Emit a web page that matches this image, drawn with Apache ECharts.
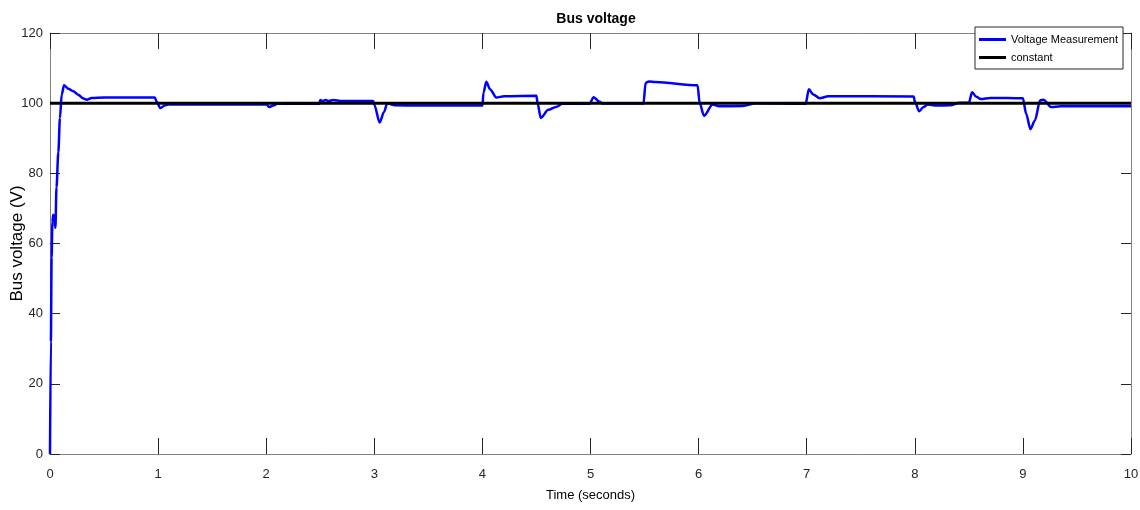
<!DOCTYPE html>
<html>
<head>
<meta charset="utf-8">
<script src="https://cdn.jsdelivr.net/npm/echarts@6/dist/echarts.min.js"></script>
<style>html,body{margin:0;padding:0;background:#fff;}#c{width:1140px;height:510px;}</style>
</head>
<body>
<div id="c"></div>
<script>
// Data
const timeValues = [0, 0.008, 0.015, 0.022, 0.03, 0.04, 0.05, 0.06, 0.077, 0.092, 0.108, 0.13, 0.17, 0.215, 0.26, 0.31, 0.34, 0.385, 0.5, 0.97,
  0.985, 1.02, 1.06, 1.1, 1.5, 2.0, 2.03, 2.07, 2.1, 2.49, 2.5, 2.52, 2.55, 2.58, 2.62, 2.7, 2.99,
  3.0, 3.05, 3.09, 3.12, 3.19, 3.4, 4.0, 4.01, 4.036, 4.07, 4.13, 4.2, 4.5,
  4.51, 4.54, 4.61, 4.68, 4.74, 4.99, 5.03, 5.08, 5.11, 5.49, 5.51, 5.54, 5.6, 5.99,
  6.01, 6.05, 6.13, 6.19, 6.41, 6.53, 6.99, 7.02, 7.06, 7.12, 7.2, 7.99,
  8.0, 8.04, 8.08, 8.12, 8.2, 8.33, 8.41, 8.5, 8.53, 8.57, 8.61, 8.7, 9.0,
  9.03, 9.07, 9.11, 9.16, 9.19, 9.26, 9.35, 10];
const voltageValues = [0, 32, 56, 66, 68.2, 67, 64.5, 76, 86, 95.8, 102.4, 105.1, 104.1, 103.4, 102.4, 101.3, 101.0, 101.5, 101.6, 101.6,
  100.5, 98.6, 99.3, 99.7, 99.6, 99.7, 98.9, 99.4, 99.8, 99.8, 100.9, 100.6, 100.9, 100.6, 100.9, 100.6, 100.6,
  99.5, 94.5, 97.5, 100.0, 99.4, 99.3, 99.3, 103, 106.1, 104, 101.6, 102.0, 102.1,
  100, 95.8, 98.1, 98.9, 99.8, 99.8, 101.7, 100.5, 99.9, 99.9, 105.8, 106.2, 106.0, 105.1,
  100, 96.4, 99.6, 99.1, 99.2, 100.0, 99.8, 104.0, 102.5, 101.4, 102.0, 101.9,
  100.5, 97.7, 98.9, 99.6, 99.3, 99.4, 100.1, 100.1, 103.1, 101.8, 101.2, 101.5, 101.4,
  97, 92.6, 95, 100.8, 101.0, 98.9, 99.1, 99.1];
const constantTime = [0, 10];
const constantValues = [100, 100];
const xTicks = [0, 1, 2, 3, 4, 5, 6, 7, 8, 9, 10];
const yTicks = [0, 20, 40, 60, 80, 100, 120];

const FONT = '"Liberation Sans", Arial, sans-serif';
const chart = echarts.init(document.getElementById('c'));
const axisLineStyle = { color: '#808080', width: 1 };
const tickStyle = { color: '#262626', width: 1 };

chart.setOption({
  animation: false,
  backgroundColor: '#fff',
  title: {
    text: 'Bus voltage', left: 591, top: 7, textAlign: 'center',
    textStyle: { fontFamily: FONT, fontSize: 14, fontWeight: 'bold', color: '#000' }
  },
  legend: {
    orient: 'vertical', right: 17, top: 27,
    padding: [7, 5, 6, 4], itemGap: 7, itemWidth: 27, itemHeight: 3,
    borderColor: '#262626', borderWidth: 1, backgroundColor: '#fff',
    textStyle: { fontFamily: FONT, fontSize: 11, color: '#000' },
    data: [
      { name: 'Voltage Measurement', icon: 'rect', itemStyle: { color: '#0000ff' } },
      { name: 'constant', icon: 'rect', itemStyle: { color: '#000' } }
    ]
  },
  grid: { left: 50, right: 9, top: 33, bottom: 56, containLabel: false, outerBoundsMode: 'none' },
  xAxis: [
    {
      type: 'value', min: xTicks[0], max: xTicks[xTicks.length - 1], interval: 1, position: 'bottom',
      name: 'Time (seconds)', nameLocation: 'middle', nameGap: 35, nameMoveOverlap: false,
      nameTextStyle: { fontFamily: FONT, fontSize: 13, color: '#000' },
      axisLine: { show: true, onZero: false, lineStyle: axisLineStyle },
      axisTick: { show: true, inside: true, length: 16, lineStyle: tickStyle },
      axisLabel: { fontFamily: FONT, fontSize: 13, color: '#262626', margin: 14 },
      splitLine: { show: false }
    },
    {
      type: 'value', min: xTicks[0], max: xTicks[xTicks.length - 1], interval: 1, position: 'top',
      axisLine: { show: true, onZero: false, lineStyle: axisLineStyle },
      axisTick: { show: true, inside: true, length: 16, lineStyle: tickStyle },
      axisLabel: { show: false }, splitLine: { show: false }
    }
  ],
  yAxis: [
    {
      type: 'value', min: yTicks[0], max: yTicks[yTicks.length - 1], interval: 20, position: 'left',
      name: 'Bus voltage (V)', nameLocation: 'middle', nameGap: 24, nameRotate: 90, nameMoveOverlap: false,
      nameTextStyle: { fontFamily: FONT, fontSize: 17, color: '#000' },
      axisLine: { show: true, onZero: false, lineStyle: axisLineStyle },
      axisTick: { show: true, inside: true, length: 10, lineStyle: tickStyle },
      axisLabel: { fontFamily: FONT, fontSize: 13, color: '#262626', margin: 7 },
      splitLine: { show: false }
    },
    {
      type: 'value', min: yTicks[0], max: yTicks[yTicks.length - 1], interval: 20, position: 'right',
      axisLine: { show: true, onZero: false, lineStyle: axisLineStyle },
      axisTick: { show: true, inside: true, length: 10, lineStyle: tickStyle },
      axisLabel: { show: false }, splitLine: { show: false }
    }
  ],
  series: [
    {
      name: 'Voltage Measurement', type: 'line', xAxisIndex: 0, yAxisIndex: 0,
      data: timeValues.map((t, i) => [t, voltageValues[i]]),
      showSymbol: false, symbol: 'none', smooth: 0.3, smoothMonotone: 'x',
      lineStyle: { color: '#0000ff', width: 2.5 }, itemStyle: { color: '#0000ff' }
    },
    {
      name: 'constant', type: 'line', xAxisIndex: 0, yAxisIndex: 0,
      data: constantTime.map((t, i) => [t, constantValues[i]]),
      showSymbol: false, symbol: 'none',
      lineStyle: { color: '#000', width: 3 }, itemStyle: { color: '#000' }
    }
  ]
});
</script>
</body>
</html>
